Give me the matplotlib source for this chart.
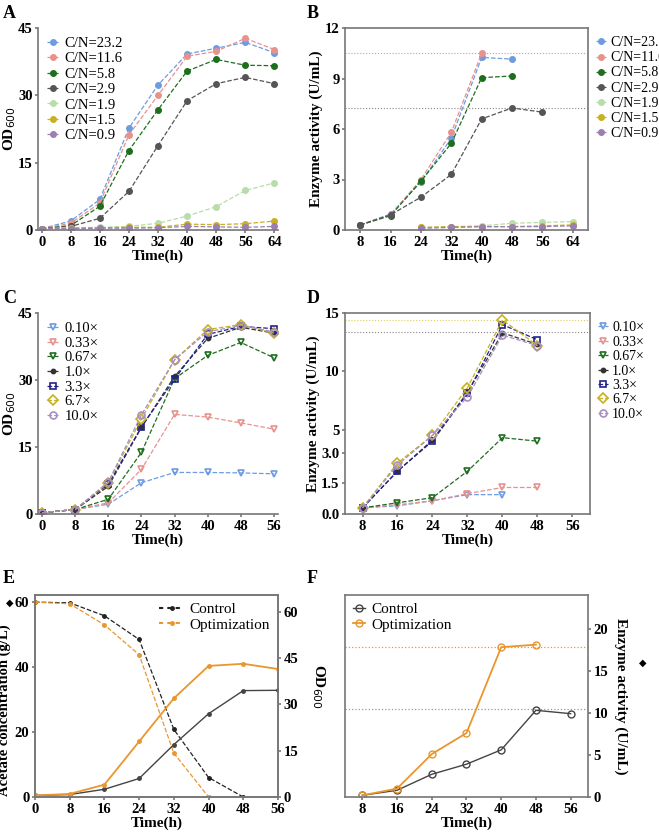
import numpy as np
import matplotlib
matplotlib.use("Agg")
import matplotlib.pyplot as plt

plt.rcParams['font.family'] = ['Liberation Serif', 'DejaVu Serif']

W, H = 659, 834

# ---- data ----
tA = [0, 8, 16, 24, 32, 40, 48, 56, 64]
cn_labels = ['C/N=23.2', 'C/N=11.6', 'C/N=5.8', 'C/N=2.9', 'C/N=1.9', 'C/N=1.5', 'C/N=0.9']
cn_colors = ['#6d9ce0', '#e8928e', '#1e6e1e', '#555555', '#b8dcaa', '#c8b020', '#9a7fb0']
odA = [
    [0.3, 2.0, 6.8, 22.7, 32.3, 39.2, 40.5, 41.8, 39.5],
    [0.3, 1.5, 6.0, 21.2, 30.0, 38.7, 39.8, 42.7, 40.2],
    [0.3, 1.0, 5.3, 17.7, 26.8, 35.4, 38.0, 36.7, 36.6],
    [0.3, 0.8, 2.6, 8.6, 18.8, 28.8, 32.6, 34.0, 32.6],
    [0.3, 0.5, 0.6, 0.8, 1.5, 3.1, 5.2, 8.8, 10.5],
    [0.3, 0.4, 0.5, 0.6, 0.6, 1.3, 1.2, 1.4, 2.0],
    [0.3, 0.3, 0.4, 0.4, 0.5, 0.8, 0.7, 0.6, 0.8],
]
tB = [
    [8, 16, 24, 32, 40, 48],
    [8, 16, 24, 32, 40],
    [8, 16, 24, 32, 40, 48],
    [8, 16, 24, 32, 40, 48, 56],
    [24, 32, 40, 48, 56, 64],
    [24, 32, 40, 48, 56, 64],
    [24, 32, 40, 48, 56, 64],
]
enzB = [
    [0.3, 0.95, 2.85, 5.45, 10.25, 10.15],
    [0.3, 0.9, 3.0, 5.8, 10.5],
    [0.3, 0.85, 2.9, 5.15, 9.05, 9.15],
    [0.3, 0.9, 1.95, 3.3, 6.6, 7.25, 7.0],
    [0.15, 0.2, 0.25, 0.4, 0.45, 0.5],
    [0.15, 0.2, 0.2, 0.2, 0.25, 0.3],
    [0.1, 0.15, 0.2, 0.2, 0.2, 0.25],
]
hB = [10.5, 7.25]

tC = [0, 8, 16, 24, 32, 40, 48, 56]
fac_labels = ['0.10×', '0.33×', '0.67×', '1.0×', '3.3×', '6.7×', '10.0×']
fac_colors = ['#6d9ce0', '#e8928e', '#1e6e1e', '#333333', '#22228a', '#c8b020', '#a890c0']
fac_markers = ['v', 'v', 'v', '.', 's', 'D', 'o']
odC = [
    [0.3, 1.0, 2.2, 7.0, 9.3, 9.3, 9.2, 9.0],
    [0.3, 1.0, 2.5, 10.0, 22.3, 21.7, 20.4, 19.0],
    [0.3, 1.0, 3.3, 13.8, 30.3, 35.5, 38.4, 35.0],
    [0.3, 1.0, 6.2, 19.4, 30.8, 39.3, 41.8, 40.5],
    [0.3, 1.0, 6.7, 19.5, 30.2, 40.2, 42.0, 41.5],
    [0.3, 1.0, 7.0, 21.3, 34.5, 41.3, 42.4, 40.5],
    [0.3, 1.0, 7.2, 22.2, 34.5, 40.8, 42.2, 40.8],
]
tD = [8, 16, 24, 32, 40, 48]
enzD = [
    [0.3, 0.4, 0.65, 0.95, 0.95],
    [0.3, 0.45, 0.65, 1.0, 1.3, 1.3],
    [0.3, 0.55, 0.8, 2.1, 4.3, 4.0],
    [0.3, 2.1, 4.1, 8.2, 13.3, 12.3],
    [0.3, 2.1, 4.0, 8.1, 14.0, 12.7],
    [0.3, 2.5, 4.5, 8.6, 14.4, 12.2],
    [0.3, 2.4, 4.5, 7.8, 13.1, 12.2],
]
hD = [14.4, 13.4]

tE = [0, 8, 16, 24, 32, 40, 48, 56]
acet_ctrl = [60, 59.8, 55.8, 48.5, 20.8, 6.0, 0.0]
acet_opt = [60, 59.5, 53.0, 43.8, 13.5, 0.0]
od_ctrl = [0.5, 0.8, 2.5, 6.0, 17.0, 27.0, 34.5, 34.6]
od_opt = [0.5, 1.0, 4.0, 18.0, 32.0, 42.5, 43.2, 41.5]

tF = [8, 16, 24, 32, 40, 48, 56]
enz_ctrl = [0.2, 0.8, 2.7, 3.9, 5.6, 10.3, 9.9]
enz_opt = [0.2, 1.0, 5.1, 7.6, 17.8, 18.1]
hF = [17.8, 10.4]

ORANGE = '#e8962e'
GRAY = '#444444'

fig = plt.figure(figsize=(W / 100, H / 100), dpi=100)


def ax_px(x0, y0, x1, y1):
    return fig.add_axes([x0 / W, 1 - y1 / H, (x1 - x0) / W, (y1 - y0) / H])


def style(ax, box=False):
    for s in ['top', 'right']:
        ax.spines[s].set_visible(box)
    for s in ax.spines.values():
        s.set_color('#777777')
        s.set_linewidth(1.2)
    ax.tick_params(labelsize=10.5, width=1.2, length=2.5, pad=1.5, color='#777777')
    for lab in ax.get_xticklabels() + ax.get_yticklabels():
        lab.set_fontweight('bold')


def panel_label(x, y, s):
    fig.text(x / W, 1 - y / H, s, fontsize=13, fontweight='bold', va='top')


def diamond(x, y):
    fig.text(x / W, 1 - y / H, '◆', fontsize=7, family='DejaVu Sans', ha='center', va='center')


lw = dict(fontsize=11, fontweight='bold')

# ---- A ----
ax = ax_px(38, 28, 278, 230)
for lab, c, y in zip(cn_labels, cn_colors, odA):
    ax.plot(tA, y, '--', color=c, marker='o', ms=4, lw=0.9, label=lab)
ax.set_xlim(-1, 65)
ax.set_ylim(0, 45)
ax.set_xticks(tA)
ax.set_yticks([0, 15, 30, 45])
ax.set_ylabel('OD$_{600}$', **lw, labelpad=0)
ax.set_xlabel('Time(h)', **lw, labelpad=1)
ax.legend(loc='upper left', frameon=False, fontsize=10.5, handlelength=0.8,
          handletextpad=0.4, labelspacing=0.15, borderaxespad=0.2)
style(ax)
panel_label(3, 5, 'A')

# ---- B ----
ax = ax_px(345, 28, 588, 230)
for h, c in zip(hB, ['#e8928e', '#888888']):
    ax.axhline(h, ls=':', color=c, lw=0.8)
for lab, c, t, y in zip(cn_labels, cn_colors, tB, enzB):
    ax.plot(t, y, '--', color=c, marker='o', ms=4, lw=0.9, label=lab)
ax.set_xlim(4, 68)
ax.set_ylim(0, 12)
ax.set_xticks([8, 16, 24, 32, 40, 48, 56, 64])
ax.set_yticks([0, 3, 6, 9, 12])
ax.set_ylabel('Enzyme activity (U/mL)', **lw, labelpad=1)
ax.set_xlabel('Time(h)', **lw, labelpad=1)
ax.legend(loc='upper left', bbox_to_anchor=(1.0, 1.0), frameon=False, fontsize=10,
          handlelength=0.7, handletextpad=0.3, labelspacing=0.15, borderaxespad=0.2)
style(ax, box=True)
panel_label(307, 5, 'B')

# ---- C ----
ax = ax_px(38, 313, 278, 514)
for lab, c, m, y in zip(fac_labels, fac_colors, fac_markers, odC):
    ax.plot(tC, y, '--', color=c, marker=m, ms=5 if m != '.' else 6, mfc='none' if m != '.' else c,
            mew=1.2, lw=0.9, label=lab)
ax.set_xlim(-1, 57)
ax.set_ylim(0, 45)
ax.set_xticks(tC)
ax.set_yticks([0, 15, 30, 45])
ax.set_ylabel('OD$_{600}$', **lw, labelpad=0)
ax.set_xlabel('Time(h)', **lw, labelpad=1)
ax.legend(loc='upper left', frameon=False, fontsize=10.5, handlelength=0.8,
          handletextpad=0.4, labelspacing=0.1, borderaxespad=0.2)
style(ax)
panel_label(3, 290, 'C')


# ---- D (broken y axis via piecewise scale) ----
def fwd(y):
    y = np.asarray(y, dtype=float)
    return np.where(y < 3, y * 1.75, 5.25 + (y - 3))


def inv(v):
    v = np.asarray(v, dtype=float)
    return np.where(v < 5.25, v / 1.75, v - 5.25 + 3)


ax = ax_px(345, 313, 590, 514)
for h, c in zip(hD, ['#d8d060', '#888888']):
    ax.axhline(h, ls=':', color=c, lw=0.8)
for lab, c, m, y in zip(fac_labels, fac_colors, fac_markers, enzD):
    ax.plot(tD[:len(y)], y, '--', color=c, marker=m, ms=5 if m != '.' else 6,
            mfc='none' if m != '.' else c, mew=1.2, lw=0.9, label=lab)
ax.set_yscale('function', functions=(fwd, inv))
ax.set_ylim(0, 15)
ax.set_xlim(4, 60)
ax.set_xticks([8, 16, 24, 32, 40, 48, 56])
ax.set_yticks([0, 1.5, 3, 5, 10, 15])
ax.set_yticklabels(['0.0', '1.5', '3.0', '5', '10', '15'])
ax.set_ylabel('Enzyme activity (U/mL)', **lw, labelpad=1)
ax.set_xlabel('Time(h)', **lw, labelpad=1)
ax.legend(loc='upper left', bbox_to_anchor=(1.0, 1.0), frameon=False, fontsize=10,
          handlelength=0.7, handletextpad=0.3, labelspacing=0.1, borderaxespad=0.2)
style(ax, box=True)
panel_label(307, 290, 'D')

# ---- E ----
ax = ax_px(35, 595, 278, 797)
ax2 = ax.twinx()
ax.plot(tE[:len(acet_ctrl)], acet_ctrl, '--', color='#222222', marker='.', ms=5, lw=0.9)
ax.plot(tE[:len(acet_opt)], acet_opt, '--', color=ORANGE, marker='.', ms=5, lw=0.9)
ax2.plot(tE, od_ctrl, '-', color=GRAY, marker='.', ms=5, lw=1.0)
ax2.plot(tE, od_opt, '-', color=ORANGE, marker='.', ms=5, lw=1.3)
ax.set_xlim(0, 56)
ax.set_ylim(0, 62.2)
ax2.set_ylim(0, 65.5)
ax.set_xticks(tE)
ax.set_yticks([0, 20, 40, 60])
ax2.set_yticks([0, 15, 30, 45, 60])
ax.set_ylabel('Acetate concentration (g/L)', fontsize=10.5, fontweight='bold', labelpad=1)
ax.yaxis.set_label_coords(-0.1, 0.43)
ax2.set_ylabel('OD$_{600}$', **lw, rotation=270, labelpad=12)
ax2.yaxis.set_label_coords(1.2, 0.55)
ax.set_xlabel('Time(h)', **lw, labelpad=1)
ax.plot([], [], ls=(0, (2, 2)), color='#222222', marker='.', ms=5, label='Control')
ax.plot([], [], ls=(0, (2, 2)), color=ORANGE, marker='.', ms=5, label='Optimization')
ax.legend(loc='upper right', frameon=False, fontsize=11, handlelength=1.6,
          handletextpad=0.4, labelspacing=0.1, borderaxespad=0.1)
style(ax, box=True)
style(ax2, box=True)
diamond(10, 603)
diamond(643, 663)
panel_label(3, 570, 'E')

# ---- F ----
ax = ax_px(345, 595, 588, 797)
ax.yaxis.tick_right()
ax.yaxis.set_label_position('right')
for h, c in zip(hF, [ORANGE, '#999999']):
    ax.axhline(h, ls=':', color=c, lw=0.9)
ax.plot(tF, enz_ctrl, '-', color=GRAY, marker='o', mfc='none', ms=5, lw=1.0, label='Control')
ax.plot(tF[:len(enz_opt)], enz_opt, '-', color=ORANGE, marker='o', mfc='none', ms=5, lw=1.3,
        label='Optimization')
ax.set_xlim(4, 60)
ax.set_ylim(0, 24)
ax.set_xticks(tF)
ax.set_yticks([0, 5, 10, 15, 20])
ax.set_ylabel('Enzyme activity (U/mL)', **lw, rotation=270, labelpad=14)
ax.set_xlabel('Time(h)', **lw, labelpad=1)
ax.legend(loc='upper left', frameon=False, fontsize=11, handlelength=0.8,
          handletextpad=0.4, labelspacing=0.1, borderaxespad=0.1)
style(ax, box=True)
panel_label(307, 570, 'F')

fig.savefig('out.png', dpi=100)
